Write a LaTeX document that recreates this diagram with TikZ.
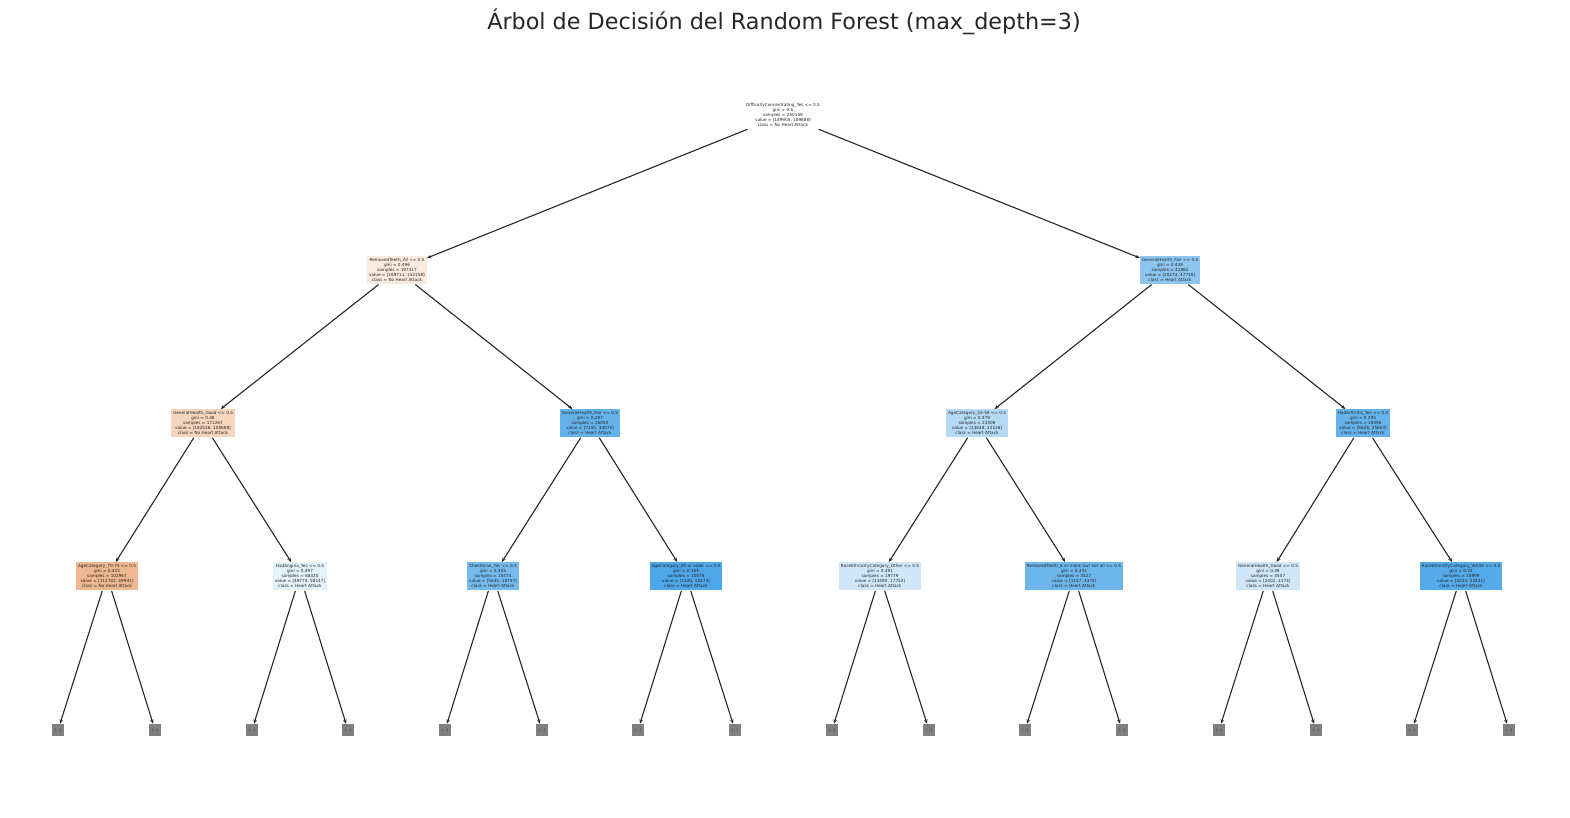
\documentclass[tikz,border=0pt]{standalone}
\usepackage{fontspec}
\setmainfont{DejaVu Sans}
\usepackage{tikz}
\usetikzlibrary{arrows.meta}

\definecolor{skorange}{RGB}{229,129,57}
\definecolor{skblue}{RGB}{57,157,229}
\definecolor{txtgray}{RGB}{38,38,38}

\tikzset{
	treenode/.style={align=center, font=\fontsize{4.2}{5}\selectfont, inner sep=1.8pt, text=txtgray},
	leafnode/.style={fill=black!50, minimum width=12pt, minimum height=12pt, inner sep=0pt, font=\fontsize{3.8}{4.6}\selectfont, text=black!80},
	edge/.style={draw=txtgray, line width=1.1pt, -{Stealth[length=4.5pt,width=3.5pt]}, shorten <=1pt}
}

\begin{document}
\begin{tikzpicture}[x=1pt,y=-1pt]
		\useasboundingbox (0,0) rectangle (1570,818);
		\node[font=\fontsize{22.3}{26}\selectfont, text=txtgray] (title) at (784,22) {Árbol de Decisión del Random Forest (max\_depth=3)};

		\node[treenode, fill=white] (root) at (783,115) {DifficultyConcentrating\_Yes <= 0.5\\gini = 0.5\\samples = 240159\\[0.6pt]value = [189905, 189888]\\class = No Heart Attack};

		\node[treenode, fill=skorange!16!white] (a) at (397,270) {RemovedTeeth\_All <= 0.5\\gini = 0.496\\samples = 197317\\[0.6pt]value = [169711, 142158]\\class = No Heart Attack};
		\node[treenode, fill=skblue!58!white] (b) at (1170,270) {GeneralHealth\_Fair <= 0.5\\gini = 0.438\\samples = 42862\\[0.6pt]value = [20274, 47730]\\class = Heart Attack};

		\node[treenode, fill=skorange!33!white] (aa) at (203,423) {GeneralHealth\_Good <= 0.5\\gini = 0.48\\samples = 171267\\[0.6pt]value = [162536, 108688]\\class = No Heart Attack};
		\node[treenode, fill=skblue!79!white] (ab) at (590,423) {GeneralHealth\_Fair <= 0.5\\gini = 0.287\\samples = 26050\\[0.6pt]value = [7155, 34070]\\class = Heart Attack};
		\node[treenode, fill=skblue!38!white] (ba) at (977,423) {AgeCategory\_55-59 <= 0.5\\gini = 0.479\\samples = 23306\\[0.6pt]value = [13648, 22126]\\class = Heart Attack};
		\node[treenode, fill=skblue!78!white] (bb) at (1363,423) {HadArthritis\_Yes <= 0.5\\gini = 0.295\\samples = 19556\\[0.6pt]value = [5626, 25604]\\class = Heart Attack};

		\node[treenode, fill=skorange!56!white] (aaa) at (107,576) {AgeCategory\_70-74 <= 0.5\\gini = 0.425\\samples = 102967\\[0.6pt]value = [112782, 49941]\\class = No Heart Attack};
		\node[treenode, fill=skblue!14!white] (aab) at (300,576) {HadAngina\_Yes <= 0.5\\gini = 0.497\\samples = 68320\\[0.6pt]value = [49774, 58147]\\class = Heart Attack};
		\node[treenode, fill=skblue!70!white] (aba) at (493,576) {ChestScan\_Yes <= 0.5\\gini = 0.355\\samples = 15474\\[0.6pt]value = [5635, 18797]\\class = Heart Attack};
		\node[treenode, fill=skblue!90!white] (abb) at (686,576) {AgeCategory\_80 or older <= 0.5\\gini = 0.165\\samples = 10576\\[0.6pt]value = [1520, 15273]\\class = Heart Attack};
		\node[treenode, fill=skblue!24!white] (baa) at (880,576) {RaceEthnicityCategory\_Other <= 0.5\\gini = 0.491\\samples = 19779\\[0.6pt]value = [13490, 17752]\\class = Heart Attack};
		\node[treenode, fill=skblue!74!white] (bab) at (1074,576) {RemovedTeeth\_6 or more, but not all <= 0.5\\gini = 0.331\\samples = 3527\\[0.6pt]value = [1157, 4374]\\class = Heart Attack};
		\node[treenode, fill=skblue!24!white] (bba) at (1268,576) {GeneralHealth\_Good <= 0.5\\gini = 0.49\\samples = 3557\\[0.6pt]value = [2402, 3173]\\class = Heart Attack};
		\node[treenode, fill=skblue!86!white] (bbb) at (1461,576) {RaceEthnicityCategory\_White <= 0.5\\gini = 0.22\\samples = 15999\\[0.6pt]value = [3224, 22431]\\class = Heart Attack};

		\draw[edge] (root) -- (a);
		\draw[edge] (root) -- (b);
		\draw[edge] (a) -- (aa);
		\draw[edge] (a) -- (ab);
		\draw[edge] (b) -- (ba);
		\draw[edge] (b) -- (bb);
		\draw[edge] (aa) -- (aaa);
		\draw[edge] (aa) -- (aab);
		\draw[edge] (ab) -- (aba);
		\draw[edge] (ab) -- (abb);
		\draw[edge] (ba) -- (baa);
		\draw[edge] (ba) -- (bab);
		\draw[edge] (bb) -- (bba);
		\draw[edge] (bb) -- (bbb);

		\foreach \p/\xl/\xr in {aaa/58/155, aab/252/348, aba/445/542, abb/638/735, baa/832/929, bab/1025/1122, bba/1219/1316, bbb/1412/1509} {
			\node[leafnode] (\p l) at (\xl,730) {(...)};
			\node[leafnode] (\p r) at (\xr,730) {(...)};
			\draw[edge] (\p) -- (\p l);
			\draw[edge] (\p) -- (\p r);
		}
	\end{tikzpicture}
\end{document}
